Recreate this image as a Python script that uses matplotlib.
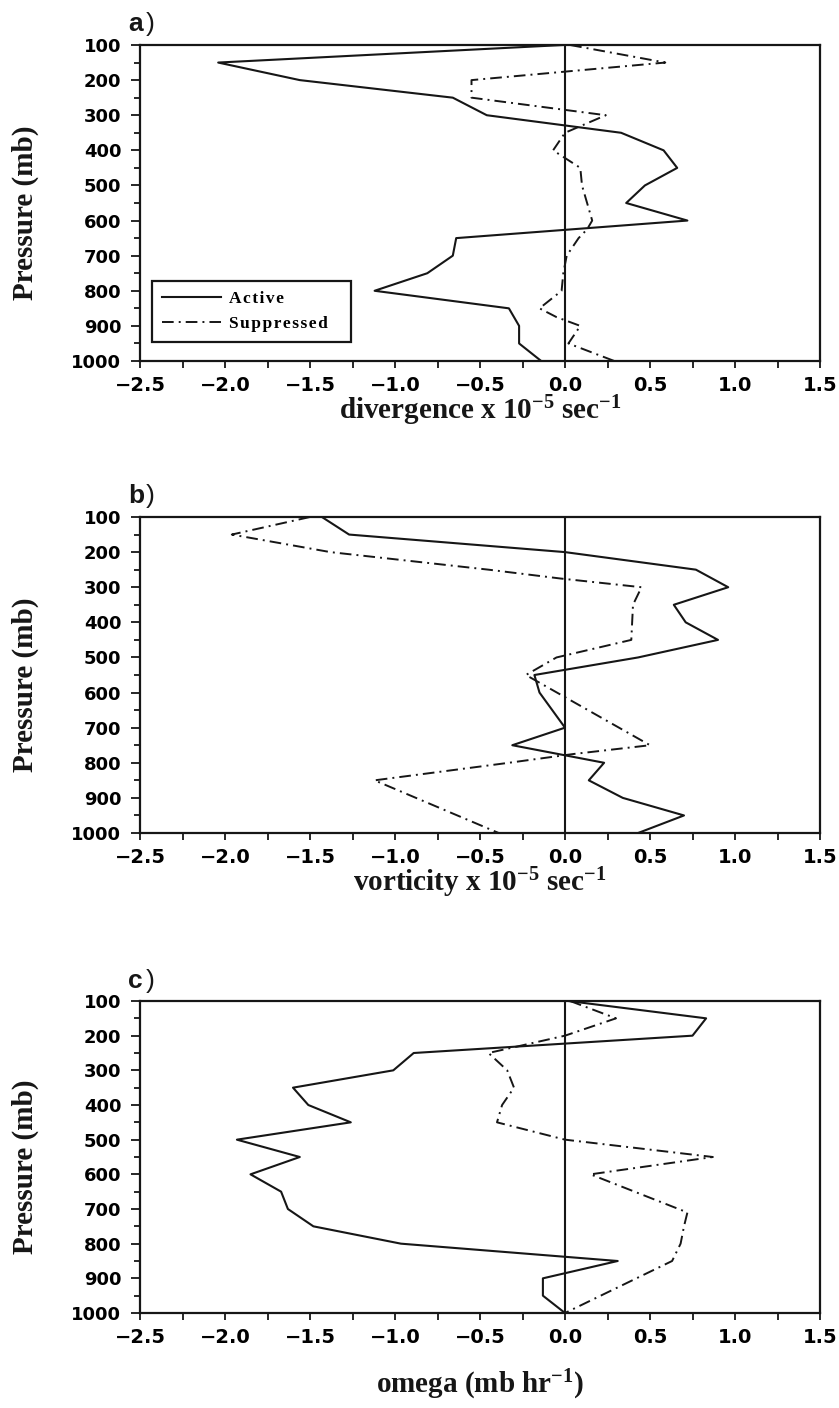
import matplotlib
matplotlib.use("Agg")
import matplotlib.pyplot as plt
from matplotlib.ticker import MultipleLocator, FuncFormatter
from matplotlib import font_manager as fm
from matplotlib import ft2font

# ---------------- data ----------------
# (a) divergence x 1e-5 s^-1
div_active_p = [100, 150, 200, 250, 300, 350, 400, 450, 500, 550, 600, 650, 700, 750, 800, 850, 900, 950, 1000]
div_active_v = [-0.01, -2.04, -1.56, -0.66, -0.46, 0.33, 0.58, 0.66, 0.47, 0.36, 0.72, -0.64, -0.66, -0.81, -1.12, -0.33, -0.27, -0.27, -0.14]
div_supp_p = [100, 150, 200, 250, 300, 350, 400, 450, 500, 550, 600, 625, 650, 700, 750, 800, 850, 875, 900, 950, 1000]
div_supp_v = [0.03, 0.59, -0.55, -0.55, 0.24, 0.0, -0.07, 0.09, 0.10, 0.13, 0.16, 0.13, 0.08, 0.01, -0.01, -0.02, -0.15, -0.05, 0.09, 0.02, 0.29]

# (b) vorticity x 1e-5 s^-1
vor_active_p = [100, 150, 200, 250, 300, 350, 400, 450, 500, 550, 600, 700, 750, 800, 850, 900, 950, 1000]
vor_active_v = [-1.43, -1.27, 0.0, 0.77, 0.96, 0.64, 0.71, 0.90, 0.43, -0.18, -0.15, 0.0, -0.31, 0.23, 0.14, 0.34, 0.70, 0.43]
vor_supp_p = [100, 150, 200, 250, 275, 300, 350, 450, 500, 550, 750, 775, 800, 850, 1000]
vor_supp_v = [-1.50, -1.96, -1.38, -0.45, -0.03, 0.45, 0.40, 0.39, -0.05, -0.23, 0.50, 0.05, -0.33, -1.12, -0.39]

# (c) omega mb/hr
om_active_p = [100, 150, 200, 250, 300, 350, 400, 450, 500, 550, 600, 650, 700, 750, 800, 850, 900, 950, 1000]
om_active_v = [0.02, 0.83, 0.75, -0.89, -1.01, -1.60, -1.51, -1.26, -1.93, -1.56, -1.85, -1.67, -1.63, -1.48, -0.965, 0.31, -0.13, -0.13, 0.0]
om_supp_p = [100, 150, 200, 250, 300, 350, 400, 450, 500, 550, 600, 710, 750, 800, 850, 1000]
om_supp_v = [0.03, 0.30, 0.0, -0.45, -0.34, -0.30, -0.37, -0.40, 0.0, 0.87, 0.15, 0.72, 0.70, 0.68, 0.63, 0.0]

series_labels = ["Active", "Suppressed"]
panel_letters = ["a", "b", "c"]
xlabels = [r"divergence x 10$^{-5}$ sec$^{-1}$",
           r"vorticity x 10$^{-5}$ sec$^{-1}$",
           r"omega (mb hr$^{-1}$)"]
xlabel_offsets = [-0.158, -0.158, -0.231]

# ---------------- style ----------------
plt.rcParams["font.family"] = "DejaVu Sans"
plt.rcParams["font.weight"] = "bold"
plt.rcParams["axes.unicode_minus"] = True
plt.rcParams["mathtext.fontset"] = "custom"
plt.rcParams["mathtext.rm"] = "Liberation Serif:bold"
plt.rcParams["mathtext.it"] = "Liberation Serif:bold"
plt.rcParams["mathtext.bf"] = "Liberation Serif:bold"
plt.rcParams["mathtext.default"] = "rm"

INK = "#161616"


def spaced(text, family="Liberation Serif"):
    try:
        path = fm.findfont(fm.FontProperties(family=family, weight="bold"), fallback_to_default=False)
        cmap = ft2font.FT2Font(path).get_charmap()
        if 0x200A in cmap:
            return "\u200a".join(text)
    except Exception:
        pass
    return text


fig = plt.figure(figsize=(8.39, 14.08), dpi=100)
W, H = 839.0, 1408.0
boxes = [(45, 361), (517, 833), (1001, 1313)]  # top, bottom in px
left_px, right_px = 140, 820

data = [
    (div_active_v, div_active_p, div_supp_v, div_supp_p),
    (vor_active_v, vor_active_p, vor_supp_v, vor_supp_p),
    (om_active_v, om_active_p, om_supp_v, om_supp_p),
]

fmt = FuncFormatter(lambda x, p: ("%.1f" % x).replace("-", "\u2212"))

for i, ((av, ap, sv, sp), (top, bot)) in enumerate(zip(data, boxes)):
    ax = fig.add_axes([left_px / W, 1 - bot / H, (right_px - left_px) / W, (bot - top) / H])
    ax.plot(av, ap, color=INK, lw=1.5, label=spaced(series_labels[0]) + "   ")
    ax.plot(sv, sp, color=INK, lw=1.4, ls=(0, (6, 2.6, 1, 2.6)), label=spaced(series_labels[1]) + "   ")
    ax.axvline(0, color=INK, lw=1.5)
    ax.set_xlim(-2.5, 1.5)
    ax.set_ylim(1000, 100)
    ax.xaxis.set_major_locator(MultipleLocator(0.5))
    ax.xaxis.set_minor_locator(MultipleLocator(0.25))
    ax.yaxis.set_major_locator(MultipleLocator(100))
    ax.yaxis.set_minor_locator(MultipleLocator(50))
    ax.xaxis.set_major_formatter(fmt)
    for s in ax.spines.values():
        s.set_linewidth(1.6)
        s.set_color(INK)
    ax.tick_params(which="both", direction="out", top=False, right=False, width=1.3, color=INK)
    ax.tick_params(axis="y", which="major", length=6.5, pad=7, labelsize=13)
    ax.tick_params(axis="y", which="minor", length=4.5)
    ax.tick_params(axis="x", which="major", length=5, pad=6, labelsize=14)
    ax.tick_params(axis="x", which="minor", length=5)
    for lbl in ax.get_xticklabels() + ax.get_yticklabels():
        lbl.set_fontweight("bold")

    ax.text(-0.169, 0.47, "Pressure (mb)", transform=ax.transAxes, rotation=90,
            ha="center", va="center", fontsize=21, fontfamily="Liberation Serif",
            fontweight="bold", color=INK)
    ax.text(0.5, xlabel_offsets[i], xlabels[i], transform=ax.transAxes, ha="center", va="center",
            fontsize=21, fontfamily="Liberation Serif", fontweight="bold", color=INK)
    ax.text(-0.018, 1.043, panel_letters[i], transform=ax.transAxes, ha="left", va="baseline",
            fontsize=19, fontfamily="Liberation Sans", fontweight="bold", color=INK)
    ax.text(-0.018 + 0.027, 1.043, ")", transform=ax.transAxes, ha="left", va="baseline",
            fontsize=19, fontfamily="Liberation Sans", fontweight="normal", color=INK)

    if i == 0:
        leg = ax.legend(loc="lower left", bbox_to_anchor=(0.0176, 0.06), borderaxespad=0,
                        prop=fm.FontProperties(family="Liberation Serif", weight="bold", size=12.5),
                        frameon=True, fancybox=False, edgecolor=INK, framealpha=1,
                        handlelength=3.4, handletextpad=0.5, labelspacing=0.55, borderpad=0.55)
        leg.get_frame().set_linewidth(1.6)

fig.savefig("out.png", dpi=100, facecolor="white")
